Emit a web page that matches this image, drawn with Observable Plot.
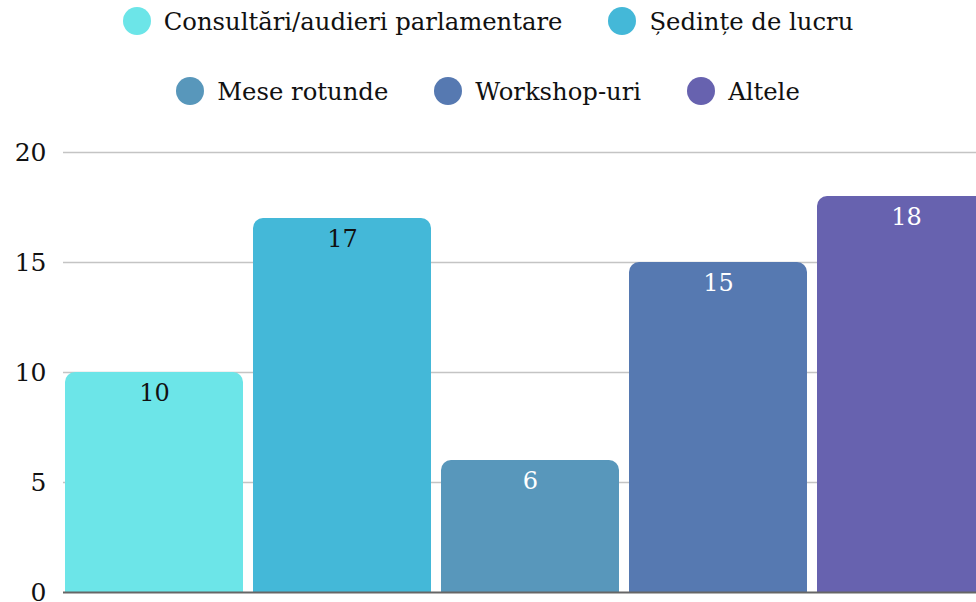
<!DOCTYPE html>
<html>
<head>
<meta charset="utf-8">
<script src="https://cdn.jsdelivr.net/npm/d3@7"></script>
<script src="https://cdn.jsdelivr.net/npm/@observablehq/plot@0.6"></script>
<style>
  html, body { margin: 0; padding: 0; background: #fff; overflow: hidden; }
  body { width: 976px; height: 602px; font-family: "DejaVu Serif", Georgia, serif; }
  #legend { height: 130px; position: relative; }
  .row { position: absolute; left: 0; width: 976px; display: flex; justify-content: center; align-items: center; }
  .item { display: flex; align-items: center; margin: 0 23px; font-size: 24.3px; color: #111; white-space: nowrap; }
  .dot { width: 28px; height: 28px; border-radius: 50%; margin-right: 13px; }
  svg { display: block; }
</style>
</head>
<body>
<div id="legend"></div>
<div id="chart"></div>
<script>
const categories = ["Consultări/audieri parlamentare", "Ședințe de lucru", "Mese rotunde", "Workshop-uri", "Altele"];
const values = [10, 17, 6, 15, 18];
const colors = ["#6ce5e8", "#44b8d8", "#5897bb", "#5679b1", "#6762af"];
const labelColors = ["#111", "#111", "#fff", "#fff", "#fff"];
const yTicks = [0, 5, 10, 15, 20];
const legendRows = [[0, 1], [2, 3, 4]];
const rowTops = [21, 91];

const data = categories.map((c, i) => ({category: c, value: values[i], color: colors[i], label: labelColors[i]}));

// legend
const legend = document.getElementById("legend");
legendRows.forEach((row, r) => {
  const div = document.createElement("div");
  div.className = "row";
  div.style.top = (rowTops[r] - 15) + "px";
  div.style.height = "30px";
  row.forEach(i => {
    const it = document.createElement("div");
    it.className = "item";
    const dot = document.createElement("span");
    dot.className = "dot";
    dot.style.background = colors[i];
    const t = document.createElement("span");
    t.textContent = categories[i];
    it.appendChild(dot); it.appendChild(t);
    div.appendChild(it);
  });
  legend.appendChild(div);
});

const chart = Plot.plot({
  width: 976,
  height: 492,
  marginTop: 22,
  marginBottom: 30,
  marginLeft: 63,
  marginRight: 0,
  style: {fontFamily: "DejaVu Serif, Georgia, serif", fontSize: "25px", color: "#111", background: "#fff"},
  x: {domain: categories, range: [63, 997], paddingInner: 0.052, paddingOuter: 0, axis: null},
  y: {domain: [0, 20], ticks: yTicks, grid: false, label: null, tickSize: 0, tickPadding: 17},
  marks: [
    Plot.ruleY(yTicks.filter(d => d > 0), {stroke: "#c4c4c4", strokeWidth: 1.5}),
    Plot.barY(data, {x: "category", y: "value", fill: "color", rx: 10}),
    Plot.barY(data, {x: "category", y1: 0, y2: d => d.value / 2, fill: "color"}),
    Plot.ruleY([0], {stroke: "#666", strokeWidth: 2}),
    Plot.text(data, {x: "category", y: "value", text: d => String(d.value), fill: "label", dy: 21, fontSize: 24})
  ]
});
document.getElementById("chart").appendChild(chart);
</script>
</body>
</html>
